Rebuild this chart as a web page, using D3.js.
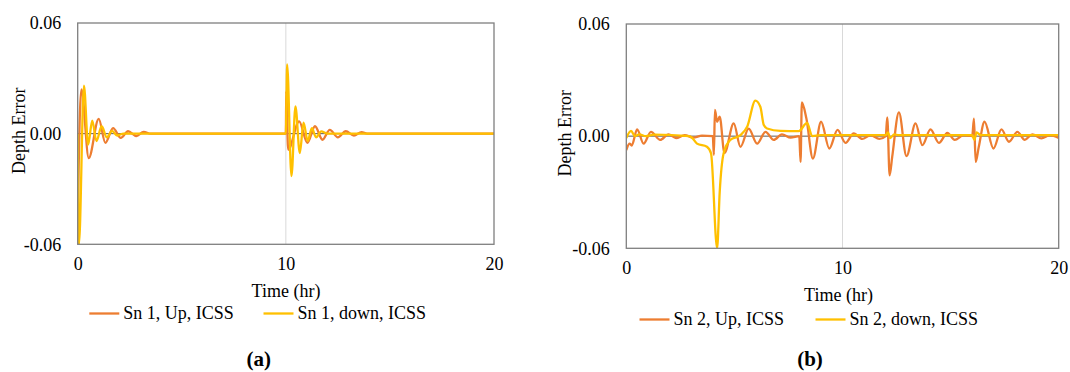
<!DOCTYPE html>
<html>
<head>
<meta charset="utf-8">
<script src="https://cdn.jsdelivr.net/npm/d3@7"></script>
<style>
  body { margin: 0; background: #fff; }
  svg { display: block; font-family: "Liberation Serif", "Times New Roman", serif; }
</style>
</head>
<body>
<div id="chart"></div>
<script>
// ---- data: [time (hr), depth error] ----
const sn1Up = [
  [0, -0.06], [0.03, -0.03], [0.18, 0.024], [0.53, -0.0132], [1.01, 0.008], [1.33, -0.005],
  [1.70, 0.003], [2.07, -0.0023], [2.42, 0.0013], [2.82, -0.0013], [3.17, 0.001], [3.5, 0],
  [10, 0], [10.02, 0.023], [10.11, -0.0087], [10.64, 0.0067], [11.03, -0.005], [11.4, 0.004],
  [11.76, -0.0033], [12.11, 0.002], [12.5, -0.002], [12.88, 0.0013], [13.27, -0.001],
  [13.64, 0.0008], [13.9, 0], [20, 0]
];
const sn1Down = [
  [0, 0], [0.06, -0.06], [0.3, 0.026], [0.5, -0.006], [0.70, 0.007], [0.9, -0.004],
  [1.15, 0.004], [1.4, -0.002], [1.65, 0.0015], [1.9, -0.001], [2.2, 0],
  [10, 0], [10.06, 0.0375], [10.27, -0.023], [10.46, 0.0148], [10.67, -0.0105], [10.85, 0.006],
  [11.05, -0.004], [11.25, 0.003], [11.45, -0.002], [11.7, 0.0012], [12, 0], [20, 0]
];
const sn2Up = [
  [0, -0.0075], [0.15, -0.004], [0.25, -0.005], [0.5, 0.0036], [0.8, -0.004], [1.14, 0.0023],
  [1.57, -0.002], [1.95, 0.001], [2.3, -0.001], [2.7, 0.0005], [3.1, -0.0008], [3.5, 0.0003],
  [4.0, 0], [4.05, -0.01], [4.1, 0.014], [4.2, 0.0077], [4.32, 0.0104], [4.54, -0.009],
  [4.97, 0.0068], [5.28, -0.0057], [5.66, 0.004], [6.05, -0.004], [6.44, 0.0023],
  [6.82, -0.002], [7.2, 0.001], [7.6, -0.0008], [8.0, 0], [8.06, -0.0138], [8.12, 0.018],
  [8.33, 0.0094], [8.63, -0.012], [9.01, 0.0077], [9.39, -0.0066], [9.77, 0.0034],
  [10.14, -0.0036], [10.52, 0.0015], [10.91, -0.0015], [11.3, 0.0005], [11.7, -0.0015],
  [12.0, 0], [12.07, 0.01], [12.18, -0.021], [12.3, -0.011], [12.61, 0.0127], [12.96, -0.0107],
  [13.38, 0.0068], [13.69, -0.0048], [14.07, 0.0036], [14.46, -0.0036], [14.85, 0.0018],
  [15.19, -0.002], [15.6, 0.0005], [16.0, 0], [16.08, 0.0094], [16.16, -0.0138], [16.3, -0.006],
  [16.57, 0.0077], [16.98, -0.0066], [17.35, 0.0036], [17.7, -0.003], [18.09, 0.0023],
  [18.43, -0.002], [18.78, 0.001], [19.2, -0.0012], [19.6, 0.0005], [20, -0.001]
];
const sn2Down = [
  [0, -0.001], [0.22, 0.0028], [0.4, 0], [0.6, 0.001], [0.9, 0], [1.3, 0.0008], [2.9, 0],
  [3.05, -0.001], [3.27, -0.004], [3.73, -0.0057], [3.92, -0.0093], [4.2, -0.06], [4.32, -0.03],
  [4.5, -0.0093], [4.81, -0.002], [5.28, 0.0005], [5.59, 0.005], [5.97, 0.019], [6.2, 0.0157],
  [6.36, 0.0059], [6.51, 0.0041], [7.13, 0.0028], [7.98, 0.0027], [8.36, 0.0071], [8.6, 0],
  [9, 0.0005], [12, 0.0005], [12.1, 0.002], [12.2, -0.001], [12.4, 0.001], [12.6, 0.0005],
  [16, 0.0005], [16.1, -0.002], [16.2, 0.002], [16.4, 0.0005], [20, 0.0005]
];
const xTicks = [0, 10, 20];
const yTicks = [-0.06, 0, 0.06];
const xGrid = [10];
const legendA = ["Sn 1, Up, ICSS", "Sn 1, down, ICSS"];
const legendB = ["Sn 2, Up, ICSS", "Sn 2, down, ICSS"];

const colors = ["#ED7D31", "#FFC000"];
const width = 1070, height = 372;

const svg = d3.select("#chart").append("svg")
  .attr("width", width)
  .attr("height", height);

const fmt = d => d3.format(".2f")(d).replace("\u2212", "-");

function drawPanel(p) {
  const x = d3.scaleLinear().domain([0, 20]).range([p.left, p.right]);
  const y = d3.scaleLinear().domain([-0.06, 0.06]).range([p.bottom, p.top]);
  const g = svg.append("g");

  // light vertical gridline
  g.selectAll(".grid").data(xGrid).enter().append("line")
    .attr("x1", d => x(d)).attr("x2", d => x(d))
    .attr("y1", p.top).attr("y2", p.bottom)
    .attr("stroke", "#d9d9d9").attr("stroke-width", 1);

  // zero line
  g.append("line")
    .attr("x1", p.left).attr("x2", p.right)
    .attr("y1", y(0)).attr("y2", y(0))
    .attr("stroke", "#595959").attr("stroke-width", 1);

  // series
  g.append("clipPath").attr("id", p.id + "-clip")
    .append("rect")
    .attr("x", p.left).attr("y", p.top)
    .attr("width", p.right - p.left).attr("height", p.bottom - p.top);

  const line = d3.line()
    .x(d => x(d[0]))
    .y(d => y(d[1]))
    .curve(d3.curveMonotoneX);

  p.series.forEach((s, i) => {
    g.append("path")
      .datum(s)
      .attr("clip-path", `url(#${p.id}-clip)`)
      .attr("fill", "none")
      .attr("stroke", colors[i])
      .attr("stroke-width", 2.3)
      .attr("stroke-linejoin", "round")
      .attr("d", line);
  });

  // plot border
  g.append("rect")
    .attr("x", p.left).attr("y", p.top)
    .attr("width", p.right - p.left).attr("height", p.bottom - p.top)
    .attr("fill", "none")
    .attr("stroke", "#7f7f7f").attr("stroke-width", 1.3);

  // axes
  const yAxis = g.append("g")
    .attr("transform", `translate(${p.left},0)`)
    .call(d3.axisLeft(y).tickValues(yTicks).tickSize(0).tickPadding(16.5).tickFormat(fmt));
  const xAxis = g.append("g")
    .attr("transform", `translate(0,${p.bottom})`)
    .call(d3.axisBottom(x).tickValues(xTicks).tickSize(0).tickPadding(13).tickFormat(d3.format("d")));
  [yAxis, xAxis].forEach(a => {
    a.select(".domain").remove();
    a.selectAll("text").attr("font-size", 18).attr("fill", "#000")
      .attr("font-family", "Liberation Serif, serif");
  });

  // axis titles
  g.append("text")
    .attr("x", p.xTitleX).attr("y", p.xTitleY)
    .attr("text-anchor", "middle").attr("font-size", 18)
    .text("Time (hr)");
  g.append("text")
    .attr("transform", `translate(${p.yTitleX},${(p.top + p.bottom) / 2 - 3}) rotate(-90)`)
    .attr("text-anchor", "middle").attr("font-size", 18)
    .text("Depth Error");

  // legend
  p.legend.forEach((name, i) => {
    const lx = p.legendX[i];
    g.append("line")
      .attr("x1", lx).attr("x2", lx + 30)
      .attr("y1", p.legendY - 5).attr("y2", p.legendY - 5)
      .attr("stroke", colors[i]).attr("stroke-width", 2.3);
    g.append("text")
      .attr("x", lx + 34).attr("y", p.legendY)
      .attr("font-size", 18)
      .text(name);
  });

  // panel caption
  g.append("text")
    .attr("x", p.captionX).attr("y", 366)
    .attr("text-anchor", "middle")
    .attr("font-size", 21).attr("font-weight", "bold")
    .text(p.caption);
}

drawPanel({
  id: "a", left: 77.7, right: 494, top: 23, bottom: 244.3,
  series: [sn1Up, sn1Down], legend: legendA,
  legendX: [89.3, 263.5], legendY: 318.5,
  xTitleX: 286, xTitleY: 297, yTitleX: 25,
  caption: "(a)", captionX: 258.7
});

drawPanel({
  id: "b", left: 626.3, right: 1058.7, top: 24, bottom: 248.3,
  series: [sn2Up, sn2Down], legend: legendB,
  legendX: [639.5, 815.5], legendY: 324.5,
  xTitleX: 838.5, xTitleY: 301, yTitleX: 571,
  caption: "(b)", captionX: 810
});
</script>
</body>
</html>
